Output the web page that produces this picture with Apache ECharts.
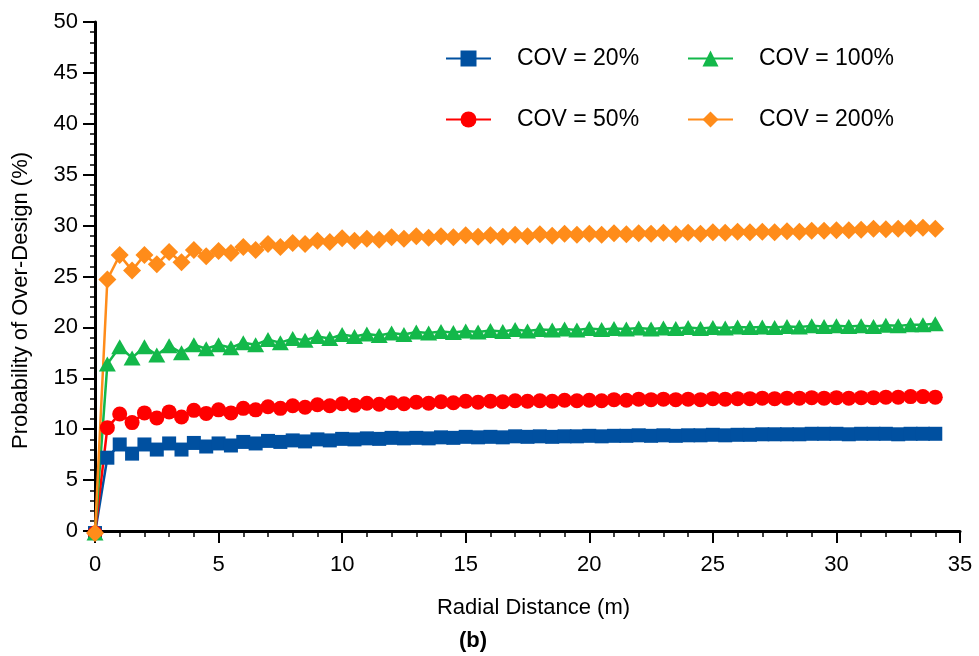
<!DOCTYPE html>
<html>
<head>
<meta charset="utf-8">
<script src="https://cdn.jsdelivr.net/npm/echarts@6/dist/echarts.min.js"></script>
<style>html,body{margin:0;padding:0;background:#fff;}#c{width:979px;height:656px;}</style>
</head>
<body>
<div id="c"></div>
<script>
const xs = [0,0.5,1,1.5,2,2.5,3,3.5,4,4.5,5,5.5,6,6.5,7,7.5,8,8.5,9,9.5,10,10.5,11,11.5,12,12.5,13,13.5,14,14.5,15,15.5,16,16.5,17,17.5,18,18.5,19,19.5,20,20.5,21,21.5,22,22.5,23,23.5,24,24.5,25,25.5,26,26.5,27,27.5,28,28.5,29,29.5,30,30.5,31,31.5,32,32.5,33,33.5,34];
const cov20 = [-0.2,7.2,8.5,7.6,8.5,8.0,8.6,8.0,8.65,8.3,8.6,8.4,8.75,8.6,8.85,8.75,8.9,8.8,9.0,8.9,9.05,9.0,9.1,9.05,9.15,9.1,9.15,9.1,9.2,9.15,9.25,9.2,9.25,9.2,9.3,9.25,9.3,9.25,9.3,9.3,9.35,9.3,9.35,9.35,9.4,9.35,9.4,9.35,9.4,9.4,9.45,9.4,9.45,9.45,9.5,9.5,9.5,9.5,9.55,9.55,9.55,9.5,9.55,9.55,9.55,9.5,9.55,9.55,9.55];
const cov50 = [-0.2,10.15,11.5,10.65,11.6,11.1,11.7,11.2,11.85,11.55,11.9,11.6,12.05,11.9,12.2,12.05,12.3,12.15,12.4,12.3,12.5,12.35,12.55,12.45,12.6,12.5,12.65,12.55,12.7,12.6,12.75,12.65,12.75,12.7,12.8,12.75,12.8,12.75,12.85,12.8,12.85,12.8,12.9,12.85,12.95,12.9,12.95,12.9,12.95,12.9,13.0,12.95,13.0,13.0,13.05,13.0,13.05,13.05,13.1,13.05,13.1,13.05,13.1,13.1,13.15,13.15,13.2,13.2,13.15];
const cov100 = [-0.2,16.4,18.1,17.0,18.1,17.3,18.2,17.5,18.3,17.9,18.3,18.0,18.5,18.3,18.8,18.5,18.9,18.75,19.1,18.9,19.3,19.1,19.35,19.2,19.45,19.3,19.55,19.45,19.6,19.5,19.65,19.55,19.7,19.6,19.8,19.65,19.8,19.75,19.85,19.75,19.9,19.8,19.9,19.85,19.95,19.85,19.95,19.9,20.0,19.9,20.0,19.95,20.05,20.0,20.05,20.0,20.1,20.05,20.15,20.1,20.15,20.1,20.15,20.1,20.2,20.15,20.25,20.25,20.35];
const cov200 = [-0.2,24.7,27.1,25.6,27.1,26.2,27.4,26.4,27.6,27.0,27.5,27.3,27.9,27.6,28.2,27.9,28.3,28.2,28.5,28.4,28.75,28.5,28.7,28.6,28.85,28.7,28.95,28.8,28.95,28.85,29.05,28.9,29.05,28.9,29.1,28.95,29.15,29.0,29.2,29.1,29.2,29.1,29.25,29.15,29.25,29.2,29.3,29.15,29.3,29.2,29.35,29.3,29.4,29.35,29.4,29.35,29.45,29.4,29.5,29.5,29.55,29.55,29.6,29.7,29.65,29.7,29.75,29.8,29.7];
const seriesNames = ['COV = 20%','COV = 50%','COV = 100%','COV = 200%'];
const seriesColors = ['#0050A0','#FF0000','#13B84A','#FF8C1A'];
const seriesSymbols = ['rect','circle','triangle','diamond'];
const seriesValues = [cov20, cov50, cov100, cov200];
const symbolSizes = [14, 15, [17, 15], 18];

const FONT = '"Liberation Sans", Arial, sans-serif';
const chart = echarts.init(document.getElementById('c'), null, {renderer:'canvas'});

const legendPos = [
  {left: 445, top: 47},
  {left: 445, top: 108},
  {left: 687, top: 47},
  {left: 687, top: 108}
];

const option = {
  backgroundColor: '#fff',
  animation: false,
  textStyle: {fontFamily: FONT},
  grid: {left: 95, right: 19, top: 22, bottom: 125, containLabel: false},
  legend: seriesNames.map((n, i) => ({
    data: [n],
    left: legendPos[i].left,
    top: legendPos[i].top,
    padding: 0,
    itemWidth: 45,
    itemHeight: 20,
    textStyle: {fontFamily: FONT, fontSize: 23, color: '#000', padding: [0,0,0,21]},
    selectedMode: false
  })),
  xAxis: {
    type: 'value',
    min: 0, max: 35, interval: 5,
    name: 'Radial Distance (m)',
    nameLocation: 'middle',
    nameGap: 66,
    nameTextStyle: {fontFamily: FONT, fontSize: 22, color: '#000', padding: [0,0,0,12]},
    axisLine: {show: true, onZero: false, lineStyle: {color: '#000', width: 3}},
    axisTick: {show: true, inside: false, length: 12, lineStyle: {color: '#000', width: 2}},
    minorTick: {show: true, splitNumber: 5, length: 6, lineStyle: {color: '#000', width: 1.5}},
    axisLabel: {fontFamily: FONT, fontSize: 22, color: '#000', margin: 23},
    splitLine: {show: false}
  },
  yAxis: {
    type: 'value',
    min: 0, max: 50, interval: 5,
    name: 'Probability of Over-Design (%)',
    nameLocation: 'middle',
    nameGap: 63,
    nameRotate: 90,
    nameTextStyle: {fontFamily: FONT, fontSize: 22, color: '#000', padding: [0,48,0,0]},
    axisLine: {show: true, onZero: false, lineStyle: {color: '#000', width: 3}},
    axisTick: {show: true, inside: false, length: 12, lineStyle: {color: '#000', width: 2}},
    minorTick: {show: true, splitNumber: 5, length: 5, lineStyle: {color: '#000', width: 1.5}},
    axisLabel: {fontFamily: FONT, fontSize: 22, color: '#000', margin: 17},
    splitLine: {show: false}
  },
  graphic: [{
    type: 'text',
    left: 459,
    top: 630,
    style: {text: '(b)', font: 'bold 22px ' + FONT, fill: '#000'}
  }],
  series: seriesNames.map((n, i) => ({
    name: n,
    type: 'line',
    data: xs.map((x, j) => [x, seriesValues[i][j]]),
    symbol: seriesSymbols[i],
    symbolSize: symbolSizes[i],
    showAllSymbol: true,
    clip: false,
    lineStyle: {color: seriesColors[i], width: 2.5},
    itemStyle: {color: seriesColors[i]},
    emphasis: {disabled: true}
  }))
};
chart.setOption(option);
</script>
</body>
</html>
